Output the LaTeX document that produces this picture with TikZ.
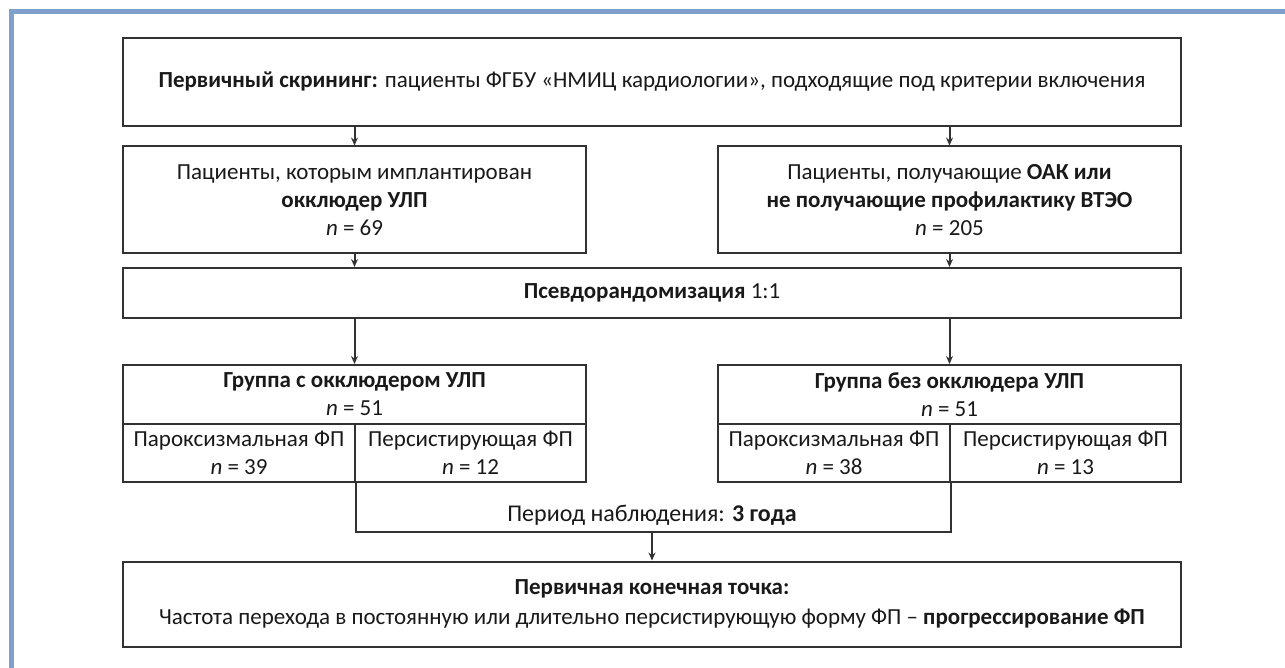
\documentclass[tikz,border=0pt]{standalone}
\usepackage{fontspec}
\setmainfont{Carlito}
\usetikzlibrary{arrows.meta}
\definecolor{framecolor}{RGB}{127,159,205}
\definecolor{linecolor}{RGB}{50,50,50}
\tikzset{
box/.style={draw = linecolor, line width = 1pt, align = center, inner sep = 0pt, text = black!90, font = \fontsize{11.5}{14}\selectfont},
arr/.style={draw = linecolor, line width = 1pt, -{Stealth[length = 4pt, width = 3.5pt]}}
}
\begin{document}
\begin{tikzpicture}[x = 0.5pt, y = -0.5pt]
\useasboundingbox (0,0) rectangle (1285,668);
\draw [color = framecolor, line width = 2.25pt] (11.7,668) -- (11.7,11.7) -- (1285,11.7);
\pgfmathsetlengthmacro\wide{529pt};
\pgfmathsetlengthmacro\half{231.5pt};
\node[box, minimum width = \wide, minimum height = 44pt] (screen) at (652,82) {\textbf{Первичный скрининг:} пациенты ФГБУ «НМИЦ кардиологии», подходящие под критерии включения};
\node[box, minimum width = \half, minimum height = 53.5pt] (laa) at (354.5,200) {Пациенты, которым имплантирован\\\textbf{окклюдер УЛП}\\\textit{n} = 69};
\node[box, minimum width = \half, minimum height = 53.5pt] (oac) at (949.5,200) {Пациенты, получающие \textbf{ОАК или}\\\textbf{не получающие профилактику ВТЭО}\\\textit{n} = 205};
\node[box, minimum width = \wide, minimum height = 25pt] (psm) at (652,293) {\textbf{Псевдорандомизация} 1:1};
\node[box, minimum width = \half, minimum height = 29.5pt] (grpa) at (354.5,394.5) {\textbf{Группа с окклюдером УЛП}\\\textit{n} = 51};
\node[box, minimum width = \half, minimum height = 29.5pt] (grpb) at (949.5,394.5) {\textbf{Группа без окклюдера УЛП}\\\textit{n} = 51};
\node[box, minimum width = 116pt, minimum height = 29pt] (parA) at (239,453) {Пароксизмальная ФП\\\textit{n} = 39};
\node[box, minimum width = 115.5pt, minimum height = 29pt] (perA) at (470.5,453) {Персистирующая ФП\\\textit{n} = 12};
\node[box, minimum width = 116pt, minimum height = 29pt] (parB) at (834,453) {Пароксизмальная ФП\\\textit{n} = 38};
\node[box, minimum width = 115.5pt, minimum height = 29pt] (perB) at (1065.5,453) {Персистирующая ФП\\\textit{n} = 13};
\node[box, draw = none, font = \fontsize{12}{14}\selectfont] (follow) at (652,515) {Период наблюдения: \textbf{3 года}};
\coordinate (followbot) at (652,532);
\node[box, minimum width = \wide, minimum height = 42.5pt] (endpt) at (652,604) {\textbf{Первичная конечная точка:}\\[1pt]Частота перехода в постоянную или длительно персистирующую форму ФП – \textbf{прогрессирование ФП}};
\foreach \a/\b in {screen/laa,screen/oac,psm/grpa,psm/grpb} \draw [arr] (\a.south -| \b.north) -- (\b.north);
\foreach \a in {laa,oac} \draw [arr] (\a.south) -- (\a.south |- psm.north);
\draw [draw = linecolor, line width = 1pt] (parA.south east) |- (followbot) -| (parB.south east);
\draw [arr] (followbot) -- (endpt.north);
\end{tikzpicture}
\end{document}
